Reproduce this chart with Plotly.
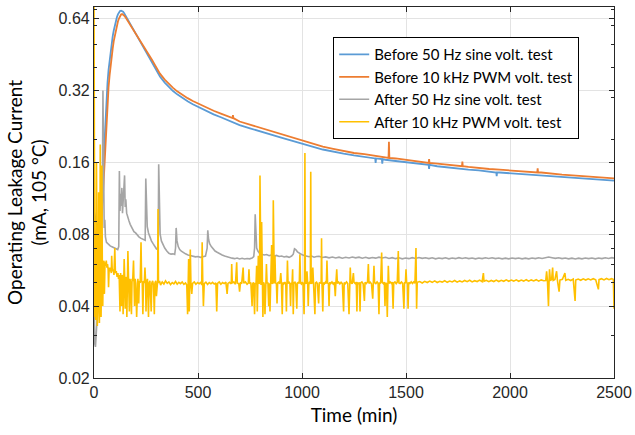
import math
import plotly.graph_objects as go

# Operating leakage current at 105 °C, mA, against time in minutes

before_sine = [
    (0, 0.1), (5, 0.093), (10, 0.09), (15, 0.088), (20, 0.086), (25, 0.086), (30, 0.092),
    (35, 0.105), (40, 0.13), (45, 0.165), (50, 0.21), (55, 0.255), (60, 0.3), (65, 0.345),
    (70, 0.39), (75, 0.43), (80, 0.47), (85, 0.505), (90, 0.54), (95, 0.57), (100, 0.6),
    (105, 0.625), (110, 0.648), (115, 0.666), (120, 0.68), (125, 0.688), (130, 0.69),
    (135, 0.688), (140, 0.683), (145, 0.674), (150, 0.662), (160, 0.64), (170, 0.62),
    (180, 0.6), (190, 0.577), (200, 0.555), (210, 0.535), (220, 0.515), (230, 0.497),
    (240, 0.48), (250, 0.465), (260, 0.45), (270, 0.435), (280, 0.42), (290, 0.403),
    (300, 0.388), (317, 0.366), (340, 0.345), (360, 0.33), (380, 0.318), (400, 0.308),
    (425, 0.297), (450, 0.288), (475, 0.28), (500, 0.273), (540, 0.263), (575, 0.254),
    (610, 0.247), (650, 0.239), (700, 0.229), (750, 0.222), (800, 0.215), (850, 0.209),
    (900, 0.203), (950, 0.197), (1000, 0.192), (1050, 0.186), (1100, 0.181), (1150, 0.177),
    (1200, 0.174), (1250, 0.171), (1300, 0.169), (1352, 0.166), (1354, 0.159), (1356, 0.166),
    (1384, 0.165), (1386, 0.158), (1388, 0.165), (1400, 0.164), (1450, 0.162), (1500, 0.16),
    (1550, 0.158), (1600, 0.156), (1609, 0.156), (1611, 0.15), (1613, 0.156), (1650, 0.154),
    (1700, 0.152), (1750, 0.151), (1800, 0.149), (1850, 0.148), (1900, 0.146), (1934, 0.145),
    (1936, 0.14), (1938, 0.145), (1950, 0.145), (2000, 0.144), (2050, 0.143), (2100, 0.142),
    (2150, 0.141), (2200, 0.14), (2250, 0.139), (2300, 0.138), (2350, 0.137), (2400, 0.136),
    (2450, 0.135), (2500, 0.134),
]

before_pwm = [
    (0, 0.085), (5, 0.078), (10, 0.075), (15, 0.073), (20, 0.072), (25, 0.072), (30, 0.076),
    (35, 0.086), (40, 0.105), (45, 0.13), (50, 0.165), (55, 0.205), (60, 0.245), (65, 0.29),
    (70, 0.33), (75, 0.37), (80, 0.41), (85, 0.445), (90, 0.48), (95, 0.515), (100, 0.545),
    (105, 0.575), (110, 0.6), (115, 0.622), (120, 0.64), (125, 0.655), (130, 0.665),
    (135, 0.668), (140, 0.665), (145, 0.658), (150, 0.65), (160, 0.63), (170, 0.61),
    (180, 0.59), (190, 0.57), (200, 0.552), (220, 0.517), (240, 0.485), (260, 0.456),
    (280, 0.428), (290, 0.413), (300, 0.398), (317, 0.376), (340, 0.355), (360, 0.34),
    (380, 0.328), (400, 0.317), (425, 0.306), (450, 0.297), (475, 0.289), (500, 0.282),
    (540, 0.272), (575, 0.263), (610, 0.256), (650, 0.248), (666, 0.245), (668, 0.252),
    (670, 0.245), (700, 0.237), (750, 0.23), (800, 0.222), (850, 0.216), (900, 0.209),
    (950, 0.203), (1000, 0.197), (1050, 0.191), (1100, 0.186), (1150, 0.182), (1200, 0.178),
    (1250, 0.175), (1300, 0.173), (1350, 0.17), (1400, 0.168), (1416, 0.167), (1418, 0.195),
    (1420, 0.167), (1450, 0.166), (1500, 0.164), (1550, 0.162), (1600, 0.16), (1609, 0.159),
    (1611, 0.165), (1613, 0.159), (1650, 0.158), (1700, 0.156), (1750, 0.155), (1769, 0.154),
    (1771, 0.161), (1773, 0.154), (1800, 0.153), (1850, 0.151), (1900, 0.15), (1950, 0.149),
    (2000, 0.148), (2050, 0.147), (2100, 0.146), (2131, 0.145), (2133, 0.151), (2135, 0.145),
    (2150, 0.145), (2200, 0.143), (2250, 0.142), (2300, 0.141), (2350, 0.14), (2400, 0.139),
    (2450, 0.138), (2500, 0.137),
]

after_sine = [
    (0, 0.07), (3, 0.028), (7, 0.027), (12, 0.031), (17, 0.038), (22, 0.048), (27, 0.062),
    (32, 0.08), (37, 0.095), (40, 0.11), (43, 0.32), (46, 0.11), (49, 0.085), (52, 0.092),
    (55, 0.078), (60, 0.074), (66, 0.073), (72, 0.072), (78, 0.0715), (84, 0.071),
    (90, 0.0705), (96, 0.07), (102, 0.0695), (108, 0.069), (114, 0.069), (119, 0.071),
    (122, 0.147), (125, 0.1), (128, 0.118), (131, 0.105), (134, 0.125), (137, 0.098),
    (140, 0.11), (144, 0.12), (147, 0.141), (150, 0.104), (153, 0.112), (157, 0.098),
    (162, 0.094), (168, 0.091), (174, 0.088), (180, 0.086), (186, 0.084), (192, 0.082),
    (200, 0.081), (208, 0.079), (216, 0.078), (224, 0.077), (232, 0.0765), (240, 0.076),
    (246, 0.0755), (249, 0.137), (252, 0.095), (256, 0.086), (262, 0.081), (268, 0.078),
    (276, 0.075), (284, 0.073), (292, 0.071), (300, 0.0695), (306, 0.069), (309, 0.08),
    (311, 0.157), (314, 0.09), (318, 0.08), (324, 0.075), (332, 0.072), (340, 0.07),
    (350, 0.068), (360, 0.0665), (370, 0.066), (380, 0.0662), (388, 0.0658), (392, 0.07),
    (395, 0.085), (399, 0.075), (405, 0.071), (412, 0.069), (420, 0.068), (430, 0.067),
    (440, 0.0662), (452, 0.0655), (464, 0.065), (476, 0.0648), (488, 0.0643), (500, 0.0645),
    (512, 0.064), (524, 0.0644), (536, 0.0648), (544, 0.07), (547, 0.083), (551, 0.076),
    (556, 0.073), (564, 0.071), (572, 0.0695), (582, 0.068), (592, 0.0672), (604, 0.0662),
    (616, 0.0655), (628, 0.0648), (640, 0.0642), (652, 0.0637), (664, 0.0635), (676, 0.0632),
    (688, 0.0636), (700, 0.063), (712, 0.0634), (724, 0.063), (736, 0.0633), (748, 0.0631),
    (760, 0.0636), (768, 0.0645), (772, 0.07), (775, 0.097), (778, 0.075), (782, 0.07),
    (788, 0.068), (796, 0.0665), (806, 0.066), (818, 0.0655), (830, 0.0658), (842, 0.065),
    (854, 0.0655), (866, 0.0648), (878, 0.0652), (890, 0.0645), (902, 0.0648), (914, 0.0642),
    (926, 0.0646), (938, 0.064), (950, 0.0648), (958, 0.066), (964, 0.0695), (970, 0.069),
    (978, 0.0675), (988, 0.0665), (998, 0.0658), (1010, 0.0652), (1022, 0.0648),
    (1034, 0.0644), (1046, 0.0648), (1058, 0.0641), (1070, 0.0645), (1082, 0.0647),
    (1098, 0.0639), (1114, 0.0643), (1130, 0.0637), (1146, 0.0642), (1162, 0.0636),
    (1178, 0.0641), (1194, 0.0635), (1210, 0.064), (1226, 0.0636), (1242, 0.0642),
    (1258, 0.0637), (1274, 0.0641), (1290, 0.0635), (1306, 0.064), (1322, 0.0634),
    (1338, 0.0639), (1354, 0.0635), (1370, 0.0641), (1386, 0.0636), (1402, 0.064),
    (1418, 0.0633), (1434, 0.0638), (1450, 0.0632), (1466, 0.0637), (1482, 0.0631),
    (1498, 0.0636), (1514, 0.0632), (1530, 0.0638), (1546, 0.0633), (1562, 0.0639),
    (1578, 0.0634), (1594, 0.0637), (1610, 0.0632), (1626, 0.0637), (1642, 0.0631),
    (1658, 0.0636), (1674, 0.0632), (1690, 0.0637), (1706, 0.0631), (1722, 0.0636),
    (1738, 0.0632), (1754, 0.0638), (1770, 0.0633), (1786, 0.0637), (1802, 0.0632),
    (1818, 0.0636), (1834, 0.0631), (1850, 0.0636), (1866, 0.0632), (1882, 0.0637),
    (1898, 0.0633), (1914, 0.0637), (1930, 0.0632), (1946, 0.0636), (1962, 0.0631),
    (1978, 0.0635), (1994, 0.0631), (2010, 0.0636), (2026, 0.0632), (2042, 0.0636),
    (2058, 0.0631), (2074, 0.0635), (2090, 0.0631), (2106, 0.0636), (2122, 0.0632),
    (2138, 0.0637), (2154, 0.0633), (2170, 0.0639), (2186, 0.0642), (2202, 0.0638),
    (2218, 0.0634), (2234, 0.0637), (2250, 0.0632), (2266, 0.0636), (2282, 0.0631),
    (2298, 0.0635), (2314, 0.063), (2330, 0.0635), (2346, 0.0631), (2362, 0.0636),
    (2378, 0.0632), (2394, 0.0636), (2410, 0.0631), (2426, 0.0636), (2442, 0.0632),
    (2458, 0.0637), (2474, 0.0633), (2490, 0.0638), (2500, 0.0635),
]

after_pwm = [
    (0, 0.8), (2, 0.16), (4, 0.036), (6, 0.05), (8, 0.035), (10, 0.045), (12, 0.16),
    (14, 0.04), (16, 0.033), (18, 0.038), (20, 0.045), (22, 0.12), (24, 0.036), (26, 0.034),
    (28, 0.05), (30, 0.19), (32, 0.05), (34, 0.036), (36, 0.055), (38, 0.155), (40, 0.058),
    (42, 0.04), (45, 0.06), (48, 0.062), (50, 0.045), (53, 0.061), (56, 0.059), (59, 0.062),
    (62, 0.058), (65, 0.06), (68, 0.057), (70, 0.048), (73, 0.058), (76, 0.056), (80, 0.058),
    (83, 0.055), (85, 0.065), (88, 0.056), (92, 0.057), (96, 0.054), (100, 0.07), (103, 0.055),
    (107, 0.056), (111, 0.053), (115, 0.055), (118, 0.052), (121, 0.054), (125, 0.038),
    (128, 0.055), (132, 0.04), (135, 0.054), (138, 0.052), (140, 0.037), (143, 0.053),
    (145, 0.063), (148, 0.052), (150, 0.039), (153, 0.053), (156, 0.051), (158, 0.036),
    (161, 0.053), (163, 0.068), (166, 0.052), (170, 0.038), (173, 0.052), (176, 0.05),
    (180, 0.037), (183, 0.052), (186, 0.051), (190, 0.062), (193, 0.051), (195, 0.04),
    (198, 0.052), (201, 0.05), (205, 0.036), (208, 0.051), (211, 0.052), (215, 0.041),
    (218, 0.051), (222, 0.05), (226, 0.074), (229, 0.051), (232, 0.05), (235, 0.037),
    (238, 0.051), (242, 0.05), (245, 0.058), (248, 0.051), (250, 0.038), (253, 0.05),
    (257, 0.052), (262, 0.036), (265, 0.05), (269, 0.051), (275, 0.038), (278, 0.05),
    (282, 0.051), (286, 0.049), (290, 0.037), (293, 0.05), (297, 0.051), (300, 0.044),
    (303, 0.05), (306, 0.051), (308, 0.102), (310, 0.05), (315, 0.051), (320, 0.049),
    (328, 0.0505), (336, 0.0495), (344, 0.051), (352, 0.0498), (360, 0.0505), (368, 0.0492),
    (376, 0.0502), (384, 0.0496), (392, 0.0507), (400, 0.0494), (408, 0.0503), (416, 0.0497),
    (424, 0.0505), (432, 0.0493), (440, 0.05), (446, 0.049), (450, 0.037), (453, 0.05),
    (455, 0.063), (458, 0.038), (461, 0.049), (463, 0.069), (466, 0.05), (470, 0.045),
    (474, 0.0498), (482, 0.0505), (490, 0.0494), (498, 0.0502), (506, 0.0496), (514, 0.0505),
    (518, 0.049), (520, 0.074), (523, 0.05), (526, 0.04), (530, 0.0497), (538, 0.0504),
    (546, 0.0493), (554, 0.0502), (562, 0.0496), (570, 0.0503), (578, 0.0495), (586, 0.05),
    (590, 0.038), (594, 0.0498), (602, 0.0505), (610, 0.0494), (618, 0.0502), (626, 0.0497),
    (634, 0.0504), (640, 0.045), (644, 0.0498), (652, 0.0503), (660, 0.0496), (662, 0.06),
    (665, 0.0499), (672, 0.0505), (680, 0.0494), (686, 0.061), (689, 0.05), (696, 0.0496),
    (700, 0.046), (704, 0.0503), (710, 0.0497), (717, 0.058), (720, 0.0499), (728, 0.0505),
    (736, 0.0494), (742, 0.05), (745, 0.057), (748, 0.0497), (754, 0.0502), (760, 0.04),
    (763, 0.0496), (767, 0.0503), (772, 0.037), (775, 0.05), (779, 0.0494), (782, 0.059),
    (785, 0.038), (788, 0.05), (790, 0.065), (793, 0.0497), (796, 0.05), (798, 0.141),
    (800, 0.05), (803, 0.049), (806, 0.09), (809, 0.05), (812, 0.036), (815, 0.0503),
    (818, 0.0495), (822, 0.037), (825, 0.05), (829, 0.06), (832, 0.0497), (836, 0.0503),
    (840, 0.04), (843, 0.0498), (846, 0.038), (849, 0.05), (852, 0.06), (854, 0.072),
    (857, 0.0496), (860, 0.05), (862, 0.111), (864, 0.05), (867, 0.0497), (870, 0.065),
    (873, 0.0502), (877, 0.0495), (880, 0.041), (883, 0.05), (888, 0.0504), (893, 0.0496),
    (898, 0.055), (901, 0.0499), (905, 0.037), (908, 0.0502), (913, 0.0496), (918, 0.0504),
    (922, 0.0495), (925, 0.038), (928, 0.05), (930, 0.062), (933, 0.0498), (938, 0.0503),
    (942, 0.0496), (945, 0.04), (948, 0.0501), (952, 0.0495), (955, 0.057), (958, 0.037),
    (961, 0.05), (966, 0.0504), (970, 0.0496), (975, 0.039), (978, 0.05), (983, 0.0503),
    (987, 0.0497), (990, 0.066), (993, 0.05), (997, 0.0495), (1001, 0.0504), (1005, 0.0498),
    (1010, 0.037), (1012, 0.05), (1014, 0.175), (1016, 0.05), (1020, 0.0496), (1024, 0.056),
    (1027, 0.0502), (1030, 0.04), (1033, 0.0499), (1037, 0.0505), (1040, 0.0495),
    (1042, 0.146), (1044, 0.05), (1048, 0.0497), (1052, 0.058), (1055, 0.0503),
    (1058, 0.0496), (1062, 0.037), (1065, 0.05), (1070, 0.0504), (1074, 0.0496),
    (1080, 0.041), (1083, 0.05), (1088, 0.0502), (1092, 0.0497), (1094, 0.077), (1096, 0.05),
    (1100, 0.038), (1103, 0.0502), (1108, 0.0496), (1113, 0.0504), (1117, 0.0497),
    (1120, 0.062), (1123, 0.05), (1127, 0.0496), (1130, 0.04), (1133, 0.0503),
    (1138, 0.0497), (1144, 0.0505), (1150, 0.0495), (1156, 0.0503), (1160, 0.044),
    (1163, 0.05), (1167, 0.057), (1170, 0.0497), (1176, 0.0504), (1182, 0.0495),
    (1188, 0.0503), (1194, 0.0497), (1200, 0.038), (1203, 0.0502), (1208, 0.0496),
    (1214, 0.0505), (1220, 0.0497), (1226, 0.037), (1229, 0.05), (1232, 0.058),
    (1235, 0.0502), (1241, 0.0496), (1247, 0.055), (1250, 0.0503), (1256, 0.0497),
    (1261, 0.0504), (1264, 0.038), (1267, 0.05), (1272, 0.0497), (1276, 0.0503),
    (1279, 0.038), (1282, 0.05), (1288, 0.0505), (1294, 0.0496), (1300, 0.042),
    (1303, 0.0503), (1309, 0.0497), (1315, 0.0505), (1319, 0.06), (1322, 0.0498),
    (1328, 0.0504), (1334, 0.0496), (1340, 0.043), (1343, 0.05), (1346, 0.059),
    (1349, 0.0502), (1355, 0.0497), (1361, 0.0505), (1366, 0.0498), (1370, 0.037),
    (1373, 0.0502), (1378, 0.0497), (1383, 0.067), (1386, 0.0503), (1392, 0.0496),
    (1396, 0.0504), (1399, 0.04), (1402, 0.05), (1406, 0.0497), (1410, 0.036),
    (1413, 0.0503), (1415, 0.059), (1418, 0.0497), (1424, 0.0505), (1430, 0.0498),
    (1434, 0.0504), (1438, 0.039), (1441, 0.05), (1447, 0.0505), (1453, 0.0497),
    (1458, 0.0504), (1463, 0.068), (1466, 0.05), (1472, 0.0497), (1478, 0.0505),
    (1484, 0.0498), (1490, 0.039), (1493, 0.0503), (1497, 0.0498), (1500, 0.057),
    (1503, 0.0504), (1507, 0.0497), (1510, 0.039), (1513, 0.0502), (1519, 0.0498),
    (1525, 0.0506), (1531, 0.0498), (1537, 0.0505), (1543, 0.0499), (1548, 0.07),
    (1551, 0.039), (1554, 0.0503),
    (1566, 0.0507), (1578, 0.05), (1590, 0.0508), (1602, 0.0502), (1614, 0.0509),
    (1626, 0.0503), (1638, 0.051), (1650, 0.0502), (1662, 0.0508), (1674, 0.0504),
    (1686, 0.0511), (1698, 0.0503), (1710, 0.0509), (1722, 0.0505), (1734, 0.0512),
    (1746, 0.0504), (1758, 0.051), (1770, 0.0505), (1782, 0.0512), (1794, 0.0506),
    (1806, 0.0513), (1818, 0.0505), (1830, 0.0511), (1842, 0.0507), (1854, 0.0514),
    (1866, 0.0506), (1872, 0.055), (1875, 0.0508), (1886, 0.0513), (1898, 0.0506),
    (1910, 0.0512), (1922, 0.0507), (1934, 0.0514), (1946, 0.0507), (1958, 0.0513),
    (1970, 0.0508), (1982, 0.0515), (1994, 0.0508), (2006, 0.0514), (2018, 0.0509),
    (2030, 0.0515), (2042, 0.0508), (2054, 0.0514), (2066, 0.0509), (2078, 0.0516),
    (2090, 0.0509), (2102, 0.0515), (2114, 0.051), (2126, 0.0516), (2138, 0.0509),
    (2150, 0.0515), (2162, 0.0511), (2172, 0.0512), (2176, 0.056), (2180, 0.0511),
    (2185, 0.04), (2188, 0.0512), (2190, 0.057), (2194, 0.0513), (2200, 0.0516),
    (2205, 0.058), (2208, 0.0512), (2216, 0.0517), (2224, 0.056), (2228, 0.0512),
    (2236, 0.046), (2240, 0.0514), (2252, 0.0518), (2264, 0.055), (2268, 0.0513),
    (2280, 0.0518), (2292, 0.0512), (2304, 0.0519), (2313, 0.042), (2316, 0.0514),
    (2328, 0.0519), (2340, 0.0513), (2352, 0.052), (2364, 0.0514), (2376, 0.052),
    (2388, 0.0515), (2400, 0.0521), (2412, 0.0515), (2425, 0.047), (2428, 0.0516),
    (2440, 0.0521), (2452, 0.0515), (2464, 0.0522), (2476, 0.0516), (2488, 0.0521),
    (2497, 0.0518), (2500, 0.039),
]

series = [
    ("Before 50 Hz sine volt. test", before_sine, "#5b9bd5", 1.8),
    ("Before 10 kHz PWM volt. test", before_pwm, "#ed7d31", 1.8),
    ("After 50 Hz sine volt. test", after_sine, "#a5a5a5", 1.6),
    ("After 10 kHz PWM volt. test", after_pwm, "#ffc000", 1.6),
]

y_ticks = [0.02, 0.04, 0.08, 0.16, 0.32, 0.64]
y_minor = [0.03, 0.05, 0.06, 0.07, 0.09, 0.2, 0.3, 0.4, 0.5, 0.6, 0.7]
x_ticks = [0, 500, 1000, 1500, 2000, 2500]

fig = go.Figure()
for name, pts, color, lw in series:
    fig.add_trace(go.Scatter(
        x=[p[0] for p in pts], y=[p[1] for p in pts],
        mode="lines", name=name,
        line=dict(color=color, width=lw),
    ))

axis_common = dict(
    showline=True, linecolor="#262626", linewidth=1.2, mirror="ticks",
    ticks="inside", ticklen=5, tickcolor="#262626", automargin=False,
    showgrid=True, gridcolor="#e3e3e3", gridwidth=1, zeroline=False,
    tickfont=dict(family="Liberation Sans, Arial", size=16, color="#262626"),
)

fig.update_xaxes(
    range=[0, 2500], tickvals=x_ticks,
    title=dict(text="Time (min)", font=dict(family="Lato", size=19, color="#000000"), standoff=8),
    **axis_common,
)
fig.update_yaxes(
    type="log", range=[math.log10(0.02), math.log10(0.715)],
    tickvals=y_ticks, ticktext=[str(v) for v in y_ticks],
    minor=dict(tickvals=y_minor, ticks="inside", ticklen=3, tickcolor="#262626", showgrid=False),
    title=dict(text="Operating Leakage Current<br>(mA, 105 °C)",
               font=dict(family="Lato", size=19, color="#000000"), standoff=6),
    **axis_common,
)

fig.update_layout(
    width=635, height=435,
    margin=dict(l=94, r=21, t=7, b=57),
    paper_bgcolor="white", plot_bgcolor="white",
    showlegend=True,
    legend=dict(
        x=0.46, y=0.919, xanchor="left", yanchor="top",
        bgcolor="white", bordercolor="#000000", borderwidth=1,
        font=dict(family="Lato", size=15, color="#000000"),
        tracegroupgap=0,
    ),
)

# the page body has a default 8 px margin; drop it so the figure fills the window
fig.write_html(
    "out.html",
    config={"displayModeBar": False},
    post_script="document.body.style.margin = '0';",
)
